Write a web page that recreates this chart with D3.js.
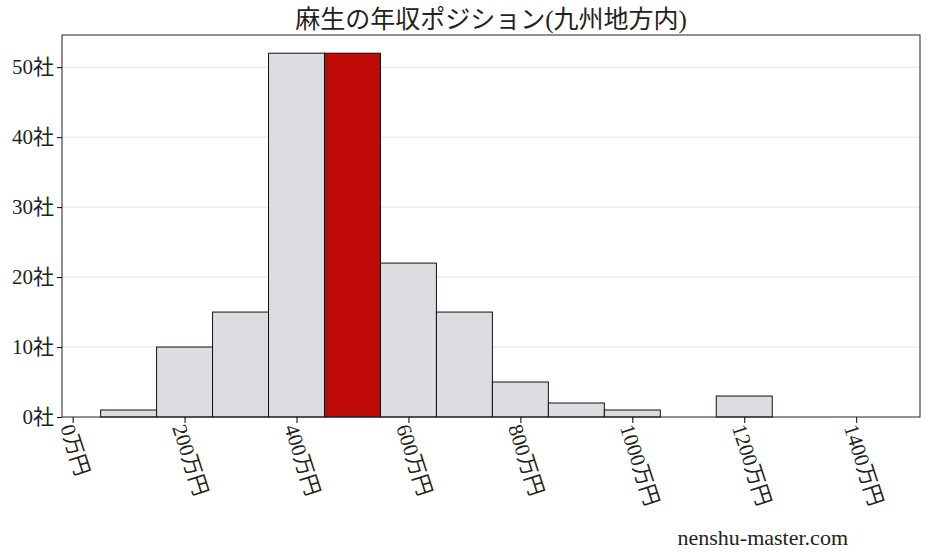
<!DOCTYPE html>
<html><head><meta charset="utf-8">
<script src="https://cdn.jsdelivr.net/npm/d3@7"></script>
<style>
body{margin:0;background:#fff}
text{font-family:"Liberation Serif","Noto Sans CJK JP",serif;fill:#222}
</style></head><body>
<svg id="c" width="927" height="557"></svg>
<script>
var centers = [100, 200, 300, 400, 500, 600, 700, 800, 900, 1000, 1200];
var counts  = [1, 10, 15, 52, 52, 22, 15, 5, 2, 1, 3];
var highlight = 500;
var xTicks = [0, 200, 400, 600, 800, 1000, 1200, 1400];
var yTicks = [0, 10, 20, 30, 40, 50];

var margin = {top: 35, right: 7, bottom: 140, left: 62},
    width = 927 - margin.left - margin.right,
    height = 557 - margin.top - margin.bottom;

var svg = d3.select('#c');
var g = svg.append('g').attr('transform', 'translate(' + margin.left + ',' + margin.top + ')');

var x = d3.scaleLinear().domain([-19, 1514]).range([0, width]);
var y = d3.scaleLinear().domain([0, 54.6]).range([height, 0]);

g.selectAll('.grid').data(yTicks.slice(1)).enter().append('line')
    .attr('x1', 0).attr('x2', width)
    .attr('y1', function(d){ return y(d); }).attr('y2', function(d){ return y(d); })
    .attr('stroke', '#ddd').attr('stroke-width', 0.8);

g.selectAll('.bar').data(centers).enter().append('rect')
    .attr('x', function(d){ return x(d - 50); })
    .attr('width', x(100) - x(0))
    .attr('y', function(d, i){ return y(counts[i]); })
    .attr('height', function(d, i){ return height - y(counts[i]); })
    .attr('fill', function(d){ return d === highlight ? '#c00a08' : '#dcdde0'; })
    .attr('stroke', '#111').attr('stroke-width', 1);

g.append('rect').attr('width', width).attr('height', height)
    .attr('fill', 'none').attr('stroke', '#222').attr('stroke-width', 1);

var xa = g.append('g').attr('transform', 'translate(0,' + height + ')')
    .call(d3.axisBottom(x).tickValues(xTicks).tickSize(6).tickFormat(function(d){ return d + '万円'; }));
xa.select('.domain').remove();
xa.selectAll('.tick text')
    .attr('font-size', 21).attr('text-anchor', 'start')
    .attr('transform', 'translate(-6,8) rotate(72)').attr('dy', '0.35em').attr('y', 0).attr('x', 0);

var ya = g.append('g')
    .call(d3.axisLeft(y).tickValues(yTicks).tickSize(5).tickFormat(function(d){ return d + '社'; }));
ya.select('.domain').remove();
ya.selectAll('.tick text').attr('font-size', 21);

svg.append('text').attr('x', margin.left + width / 2).attr('y', 28)
    .attr('text-anchor', 'middle').attr('font-size', 25)
    .text('麻生の年収ポジション(九州地方内)');

svg.append('text').attr('x', 848).attr('y', 545)
    .attr('text-anchor', 'end').attr('font-size', 22)
    .text('nenshu-master.com');
</script>
</body></html>
